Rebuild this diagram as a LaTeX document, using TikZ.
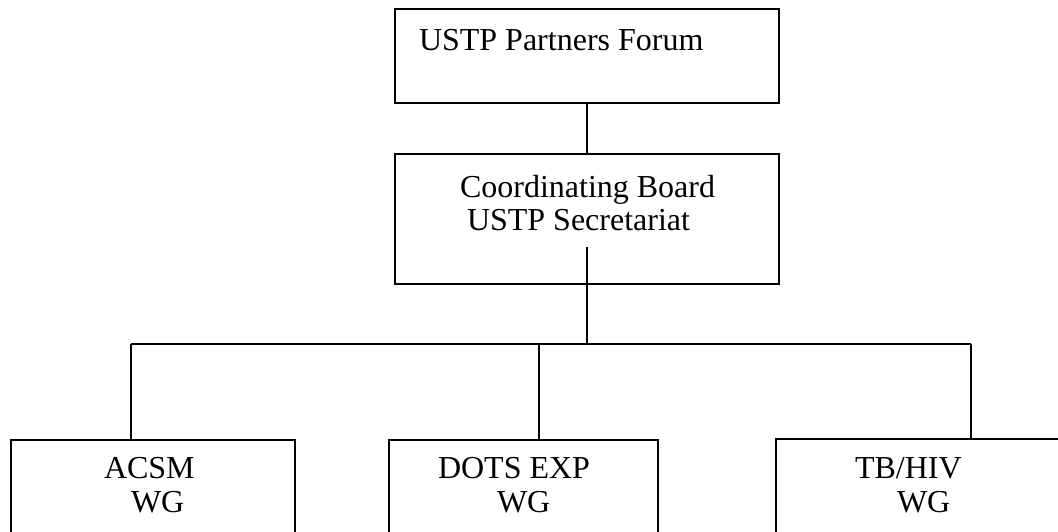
\documentclass[tikz,border=0pt]{standalone}
\usepackage{fontspec}
\setmainfont{Liberation Serif}
\begin{document}
\begin{tikzpicture}[x=1pt,y=-1pt,
  box/.style={draw=black,line width=1.4pt,rectangle,inner sep=0pt,outer sep=0pt},
  lbl/.style={anchor=base west,inner sep=0pt,outer sep=0pt,font=\fontsize{32}{33}\selectfont},
  conn/.style={draw=black,line width=1.4pt}]
\useasboundingbox (0,0) rectangle (1058,531);
\clip (0,0) rectangle (1058,531);
% boxes
\node[box,minimum width=384pt,minimum height=94pt] (forum) at (587,56) {};
\node[box,minimum width=384pt,minimum height=130pt] (board) at (587,219) {};
\node[box,minimum width=284pt,minimum height=140pt] (acsm) at (153,510) {};
\node[box,minimum width=269pt,minimum height=140pt] (dots) at (523.5,510) {};
\node[box,minimum width=300pt,minimum height=140pt] (tbhiv) at (926,509) {};
% texts
\node[lbl] (t1) at (419,50) {USTP Partners Forum};
\node[lbl] (t2) at (460,197) {Coordinating Board};
\node[lbl] (t3) at (467,230) {USTP Secretariat};
\node[lbl] (t4) at (104,478) {ACSM};
\node[lbl] (t5) at (131,512) {WG};
\node[lbl] (t6) at (438,478) {DOTS EXP};
\node[lbl] (t7) at (497,512) {WG};
\node[lbl] (t8) at (855,478) {TB/HIV};
\node[lbl] (t9) at (897,512) {WG};
% connector points
\coordinate (cin) at (587,247);
\coordinate (bar) at (587,344);
\coordinate (barL) at (131,344);
\coordinate (barM) at (539,344);
\coordinate (barR) at (971,344);
\coordinate (inL) at (131,440);
\coordinate (inM) at (539,440);
\coordinate (inR) at (971,439);
% connectors
\draw[conn] (forum.south) -- (board.north);
\draw[conn] (cin) -- (bar);
\draw[conn] (barL) -- (barR);
\draw[conn] (barL) -- (inL);
\draw[conn] (barM) -- (inM);
\draw[conn] (barR) -- (inR);
\end{tikzpicture}
\end{document}
